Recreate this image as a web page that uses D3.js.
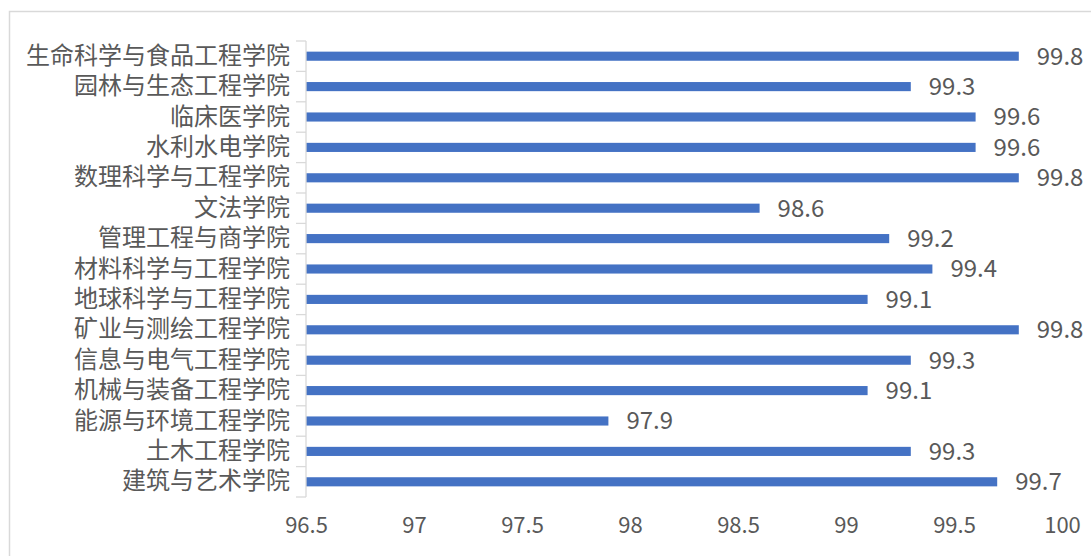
<!DOCTYPE html>
<html>
<head>
<meta charset="utf-8">
<script src="https://cdn.jsdelivr.net/npm/d3@7/dist/d3.min.js"></script>
<style>
  html, body { margin: 0; padding: 0; background: #fff; }
  svg { display: block; }
  text { font-family: "Noto Sans CJK SC", "Noto Sans", sans-serif; fill: #595959; }
</style>
</head>
<body>
<svg id="chart" width="1091" height="556"></svg>
<script>
// Colleges, listed top to bottom
const colleges = [
  "生命科学与食品工程学院",
  "园林与生态工程学院",
  "临床医学院",
  "水利水电学院",
  "数理科学与工程学院",
  "文法学院",
  "管理工程与商学院",
  "材料科学与工程学院",
  "地球科学与工程学院",
  "矿业与测绘工程学院",
  "信息与电气工程学院",
  "机械与装备工程学院",
  "能源与环境工程学院",
  "土木工程学院",
  "建筑与艺术学院"
];
const rates = [99.8, 99.3, 99.6, 99.6, 99.8, 98.6, 99.2, 99.4, 99.1, 99.8, 99.3, 99.1, 97.9, 99.3, 99.7];
const xTicks = [96.5, 97, 97.5, 98, 98.5, 99, 99.5, 100];

const svg = d3.select("#chart");
const W = 1091, H = 556;
const margin = { top: 41, right: 29, bottom: 59, left: 306 };

// outer chart frame
svg.append("rect")
  .attr("x", 9.5).attr("y", 11.5)
  .attr("width", W + 20).attr("height", H + 20)
  .attr("fill", "none").attr("stroke", "#d9d9d9").attr("stroke-width", 1.5);

const x = d3.scaleLinear().domain([96.5, 100]).range([margin.left, W - margin.right]);
const y = d3.scaleBand().domain(colleges).range([margin.top, H - margin.bottom]).paddingInner(0.7).paddingOuter(0.35);

const x0 = x.domain()[0];
const plotTop = margin.top, plotBottom = H - margin.bottom;

// bars
svg.append("g").selectAll("rect")
  .data(colleges)
  .join("rect")
  .attr("x", x(x0))
  .attr("y", d => y(d))
  .attr("width", (d, i) => x(rates[i]) - x(x0))
  .attr("height", y.bandwidth())
  .attr("fill", "#4472c4");

// category axis: line plus ticks at band boundaries
const axisG = svg.append("g").attr("stroke", "#d9d9d9").attr("stroke-width", 1.3);
axisG.append("line")
  .attr("x1", x(x0)).attr("x2", x(x0))
  .attr("y1", plotTop).attr("y2", plotBottom);
const bounds = d3.range(colleges.length + 1).map(i => plotTop + i * (plotBottom - plotTop) / colleges.length);
axisG.selectAll("line.tk").data(bounds).join("line")
  .attr("class", "tk")
  .attr("x1", x(x0) - 10).attr("x2", x(x0))
  .attr("y1", d => d).attr("y2", d => d);

// category labels
const yAxis = d3.axisLeft(y).tickSize(0).tickPadding(16);
const yg = svg.append("g").attr("transform", `translate(${x(x0)},0)`).call(yAxis);
yg.select(".domain").remove();
yg.attr("font-family", null);
yg.selectAll("text").style("font-size", "24px").attr("fill", "#595959");

// value axis labels
const xAxis = d3.axisBottom(x).tickValues(xTicks).tickSize(0).tickPadding(20).tickFormat(d3.format("~g"));
const xg = svg.append("g").attr("transform", `translate(0,${plotBottom})`).call(xAxis);
xg.select(".domain").remove();
xg.attr("font-family", null);
xg.selectAll("text").style("font-size", "22px").attr("fill", "#595959");

// value labels
svg.append("g").selectAll("text")
  .data(colleges)
  .join("text")
  .attr("x", (d, i) => x(rates[i]) + 18)
  .attr("y", d => y(d) + y.bandwidth() / 2)
  .attr("dy", "0.35em")
  .style("font-size", "24px")
  .text((d, i) => rates[i].toFixed(1));
</script>
</body>
</html>
